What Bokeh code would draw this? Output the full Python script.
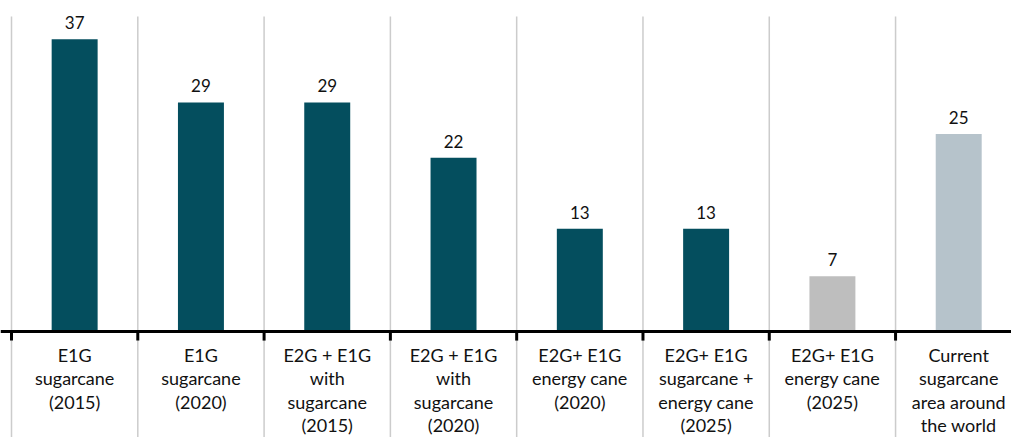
from bokeh.plotting import figure
from bokeh.models import Range1d, Span, ColumnDataSource
from bokeh.core.properties import value
from bokeh.embed import file_html
from bokeh.resources import INLINE

categories = [
    "E1G\nsugarcane\n(2015)",
    "E1G\nsugarcane\n(2020)",
    "E2G + E1G\nwith\nsugarcane\n(2015)",
    "E2G + E1G\nwith\nsugarcane\n(2020)",
    "E2G+ E1G\nenergy cane\n(2020)",
    "E2G+ E1G\nsugarcane +\nenergy cane\n(2025)",
    "E2G+ E1G\nenergy cane\n(2025)",
    "Current\nsugarcane\narea around\nthe world",
]
values = [37, 29, 29, 22, 13, 13, 7, 25]
colors = ["#044e5e"] * 6 + ["#bebebe", "#b6c3cb"]

FONT = "Lato"
n = len(categories)
xs = [i + 0.5 for i in range(n)]
bounds = list(range(n + 1))

p = figure(width=1011, height=437, output_backend="svg", toolbar_location=None,
           x_range=Range1d(-0.0871, 7.918), y_range=Range1d(-13.42, 41.90),
           min_border=0, outline_line_color=None)
p.axis.visible = False
p.grid.visible = False
p.background_fill_color = "white"
p.border_fill_color = "white"

# vertical separators
p.segment(x0=bounds, x1=bounds, y0=[39.87] * len(bounds), y1=[-14] * len(bounds),
          line_color="#cccccc", line_width=1.5)

src = ColumnDataSource(dict(x=xs, top=values, color=colors,
                            lbl=[str(v) for v in values], cat=categories,
                            ly=[-1.6] * n))
p.vbar(x="x", top="top", bottom=0, width=0.364, fill_color="color",
       line_color=None, source=src)

# axis line and ticks
p.add_layout(Span(location=0, dimension="width", line_color="black", line_width=3))
p.segment(x0=bounds, x1=bounds, y0=[0] * len(bounds), y1=[-1.15] * len(bounds),
          line_color="black", line_width=3)

p.text(x="x", y="top", text="lbl", source=src, text_align="center",
       text_baseline="bottom", y_offset=-10, text_font=value(FONT),
       text_font_size="17px", text_color="#111111")

p.text(x="x", y="ly", text="cat", source=src, text_align="center",
       text_baseline="top", text_font=value(FONT), text_font_size="18px",
       text_line_height=1.06, text_color="#111111")

open("out.html", "w").write(file_html(p, INLINE))
